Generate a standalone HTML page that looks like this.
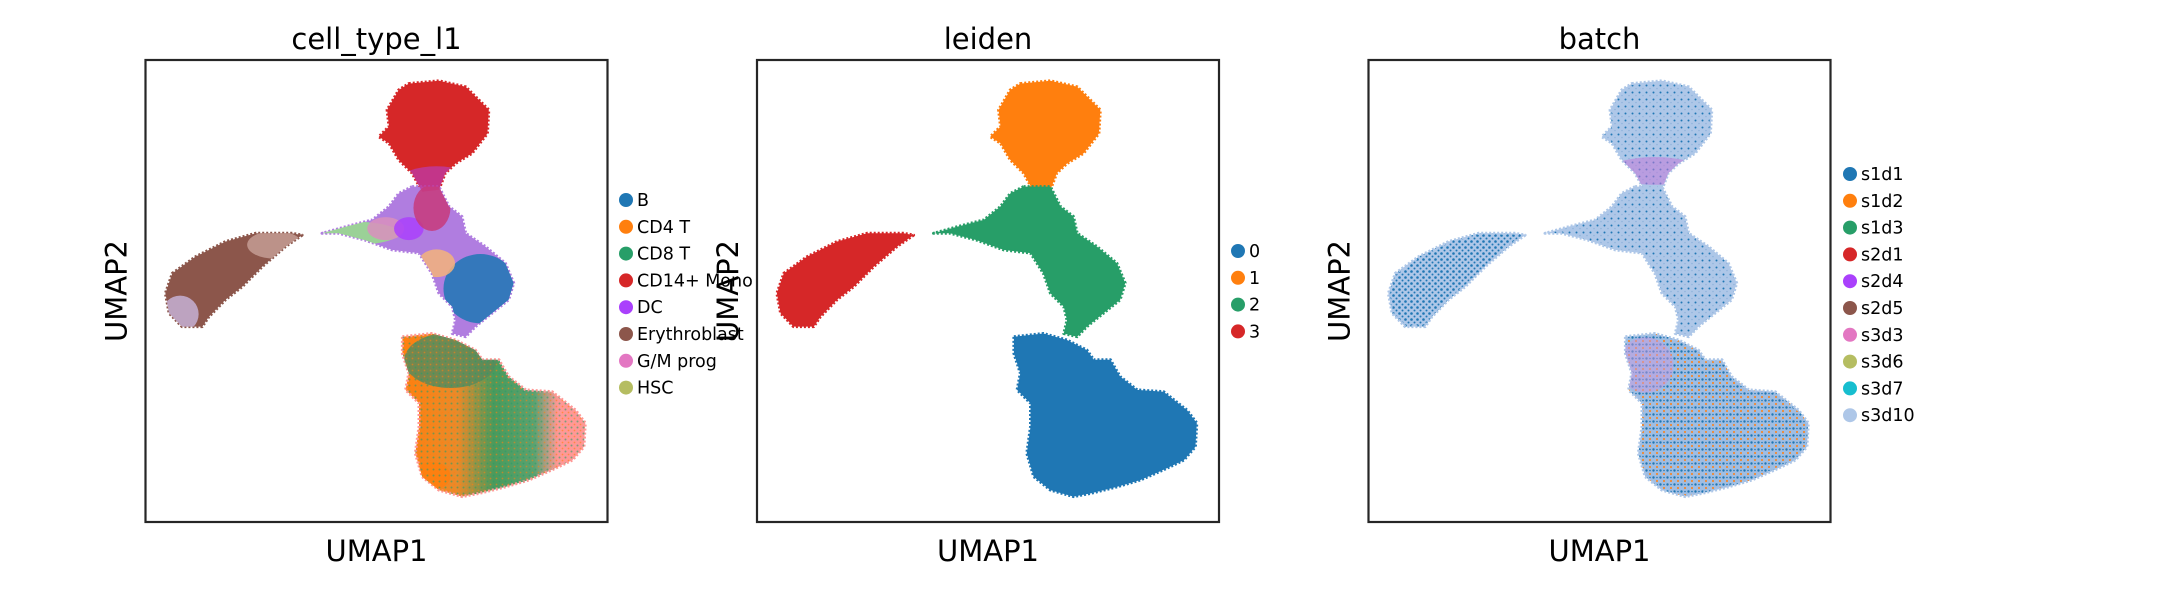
<!DOCTYPE html>
<html><head><meta charset="utf-8"><style>
html,body{margin:0;padding:0;background:#fff;}
svg{display:block;font-family:"DejaVu Sans","Liberation Sans",sans-serif;}
</style></head><body>
<svg id="fig" width="2173" height="600" viewBox="0 0 2173 600" xmlns="http://www.w3.org/2000/svg">
<defs>
<pattern id="patBatch" patternUnits="userSpaceOnUse" width="7" height="7">
<rect width="7" height="7" fill="#aec7e8"/><circle cx="1.5" cy="1.5" r="1" fill="#1f77b4"/><circle cx="5" cy="4.5" r="0.8" fill="#8fb3dc"/>
</pattern>
<pattern id="patBatchT" patternUnits="userSpaceOnUse" width="7" height="7">
<rect width="7" height="7" fill="#9fbde2"/><circle cx="1.5" cy="1.5" r="1.2" fill="#1f77b4"/><circle cx="5" cy="5" r="1" fill="#ff7f0e"/><circle cx="5" cy="1.5" r="0.8" fill="#1f77b4"/>
</pattern>
<pattern id="patBatchE" patternUnits="userSpaceOnUse" width="6" height="6">
<rect width="6" height="6" fill="#aec7e8"/><circle cx="1.5" cy="1.5" r="1.3" fill="#1f77b4"/><circle cx="4.5" cy="4.5" r="1" fill="#1f77b4"/>
</pattern>
<pattern id="patT1" patternUnits="userSpaceOnUse" width="6" height="6">
<rect width="6" height="6" fill="none"/><circle cx="1.5" cy="1.5" r="1" fill="#279e68"/><circle cx="4.5" cy="4.5" r="0.9" fill="#ff7f0e"/>
</pattern>
<linearGradient id="gradT" x1="0" x2="1" y1="0" y2="0">
<stop offset="0" stop-color="#ff7f0e"/><stop offset="0.3" stop-color="#e98a2a"/><stop offset="0.5" stop-color="#4a9a5c"/><stop offset="0.72" stop-color="#5aa270"/><stop offset="0.85" stop-color="#ff9896"/><stop offset="1" stop-color="#ff9896"/>
</linearGradient>
</defs>
<g id="plots"></g>
</svg>
<script>
// cluster outlines in UMAP data units (0..100 on both axes)
const monoX=[57,63.5,69.3,74.3,74,70.7,67.1,64.9,63.5,59.9,57.7,54.8,52.7,50.5,52.7,52.3,54.8];
const monoY=[94.9,95.5,94.2,89.2,84.1,79.8,77.6,75.5,71.9,71.5,75.5,78.4,82,83.4,85.6,89.2,93.5];
const midX=[57.7,63.5,65.7,68.5,69.3,73.6,77.9,79.7,78.6,75,71.4,69.3,66.4,67.1,66.4,63.5,62,59.2,53.4,47.6,41.8,38.2,43.3,49.1,52.7,54.8];
const midY=[72.6,72.6,68.3,66.1,62.5,59.6,56,51.7,48.1,45.2,42.3,40.1,40.8,43.7,46.6,49.5,53.8,58.2,58.9,61,62.5,62.5,63.9,65.4,68.3,71.1];
const eryX=[5.8,10.8,17.3,23.8,31.7,33.9,30.3,25.3,20.9,17.3,13.7,12.3,7.9,5.1,4.3];
const eryY=[53.8,57.4,60.7,62.5,62.5,62.1,59.6,55.3,50.9,48.1,44.4,42.3,42.3,45.2,49.5];
const tX=[55.6,62,67.1,71.4,72.9,76.5,78.6,82.3,88,93.1,95.2,94.9,92.4,88,83,77.9,72.2,68.5,63.5,59.9,58.4,59.2,59.2,56.3,57,55.6];
const tY=[40.1,40.8,39.4,37.2,35.1,35.1,31.5,28.6,28.2,24.2,21.4,16.3,13.4,11.3,9.1,7.6,6.2,5.5,6.9,9.8,14.9,20.6,25.7,28.6,32.2,36.5];
const regionX=[monoX,midX,eryX,tX];
const regionY=[monoY,midY,eryY,tY];
// panel 1 sub-cluster overlays (ellipses in data units), region index they belong to
const ovRegion=[0,1,1,1,1,1,1,2,2,3,3];
const ovCx=[63,45,52,57,72.5,63,62,28,7.5,66,62];
const ovCy=[74,62.5,63.5,63.5,50.5,56,68,60,45,35,10];
const ovRx=[8,10,4,3.2,8,4,4,6,4,10,4];
const ovRy=[3,2.5,2.5,2.5,7.5,3,5,3,4,6,3];
const ovColor=['#c0389a','#98df8a','#d98fbd','#aa40fc','#1f77b4','#f5b37a','#c8397a','#c49c94','#c5b0d5','#5a8a5a','#ff7f0e'];
// legends
const ctNames=['B','CD4 T','CD8 T','CD14+ Mono','DC','Erythroblast','G/M prog','HSC'];
const ctColors=['#1f77b4','#ff7f0e','#279e68','#d62728','#aa40fc','#8c564b','#e377c2','#b5bd61'];
const ldNames=['0','1','2','3'];
const ldColors=['#1f77b4','#ff7f0e','#279e68','#d62728'];
const btNames=['s1d1','s1d2','s1d3','s2d1','s2d4','s2d5','s3d3','s3d6','s3d7','s3d10'];
const btColors=['#1f77b4','#ff7f0e','#279e68','#d62728','#aa40fc','#8c564b','#e377c2','#b5bd61','#17becf','#aec7e8'];

const NS='http://www.w3.org/2000/svg';
const root=document.getElementById('plots');
function mk(tag,attrs,parent){const e=document.createElementNS(NS,tag);for(const k in attrs)e.setAttribute(k,attrs[k]);(parent||root).appendChild(e);return e;}

const panels=[
 {left:145.5,top:60,title:'cell_type_l1',names:ctNames,colors:ctColors,legX:626,legY:200,fills:['#d62728','#b07de0','#8c564b','url(#gradT)'],key:'cell-type'},
 {left:757,top:60,title:'leiden',names:ldNames,colors:ldColors,legX:1238,legY:251,fills:['#ff7f0e','#279e68','#d62728','#1f77b4'],key:'leiden'},
 {left:1368.5,top:60,title:'batch',names:btNames,colors:btColors,legX:1850,legY:174,fills:['url(#patBatch)','url(#patBatch)','url(#patBatchE)','url(#patBatchT)'],key:'batch'}
];
const S=462;
panels.forEach((p,pi)=>{
  const xs=v=>p.left+v/100*S;
  const ys=v=>p.top+S-v/100*S;
  const g=mk('g',{});
  
  
  regionX.forEach((rx,ri)=>{
    const pts=rx.map((x,i)=>xs(x).toFixed(1)+','+ys(regionY[ri][i]).toFixed(1)).join(' ');
    const cp=mk('clipPath',{id:'clip'+pi+'_'+ri},g);
    mk('polygon',{points:pts},cp);
    const poly=mk('polygon',{points:pts,fill:p.fills[ri],stroke:pi===2?'#aec7e8':p.fills[ri].startsWith('url')?'#ff9896':p.fills[ri],'stroke-width':3,'stroke-linejoin':'round','stroke-dasharray':'2 2'},g);
    
    
  });
  if(pi===0){
    ovCx.forEach((cx,i)=>{
      const e=mk('ellipse',{cx:xs(cx),cy:ys(ovCy[i]),rx:ovRx[i]/100*S,ry:ovRy[i]/100*S,fill:ovColor[i],opacity:0.85,'clip-path':'url(#clip0_'+ovRegion[i]+')'},g);
      
      
    });
    const pt=mk('polygon',{points:tX.map((x,i)=>xs(x)+','+ys(tY[i])).join(' '),fill:'url(#patT1)',opacity:0.6},g);
    
    
  }
  if(pi===2){
    const e1=mk('ellipse',{cx:xs(62),cy:ys(76),rx:0.1*S,ry:0.03*S,fill:'#c27ad8',opacity:0.55,'clip-path':'url(#clip2_0)'},g);
    
    
    const e2=mk('ellipse',{cx:xs(60),cy:ys(34),rx:0.06*S,ry:0.06*S,fill:'#c89ae0',opacity:0.5,'clip-path':'url(#clip2_3)'},g);
    
    
  }
  const frame=mk('rect',{x:p.left,y:p.top,width:S,height:S,fill:'none',stroke:'#262626','stroke-width':2.2},g);
  
  
  const t=mk('text',{x:p.left+S/2,y:49,'text-anchor':'middle','font-size':29,fill:'#000'},g);
  t.textContent=p.title;
  
  
  const xl=mk('text',{x:p.left+S/2,y:561,'text-anchor':'middle','font-size':29,fill:'#000'},g);
  xl.textContent='UMAP1';
  
  
  const yx=p.left-19, yy=p.top+S/2;
  const yl=mk('text',{x:yx,y:yy,'text-anchor':'middle','font-size':29,fill:'#000',transform:'rotate(-90 '+yx+' '+yy+')'},g);
  yl.textContent='UMAP2';
  
  
  p.names.forEach((n,i)=>{
    const cy=p.legY+i*26.8;
    const c=mk('circle',{cx:p.legX,cy:cy,r:7,fill:p.colors[i]},g);
    
    
    const tx=mk('text',{x:p.legX+11,y:cy+6,'font-size':17.5,fill:'#000'},g);
    tx.textContent=n;
    
    
  });
});
</script>
</body></html>
